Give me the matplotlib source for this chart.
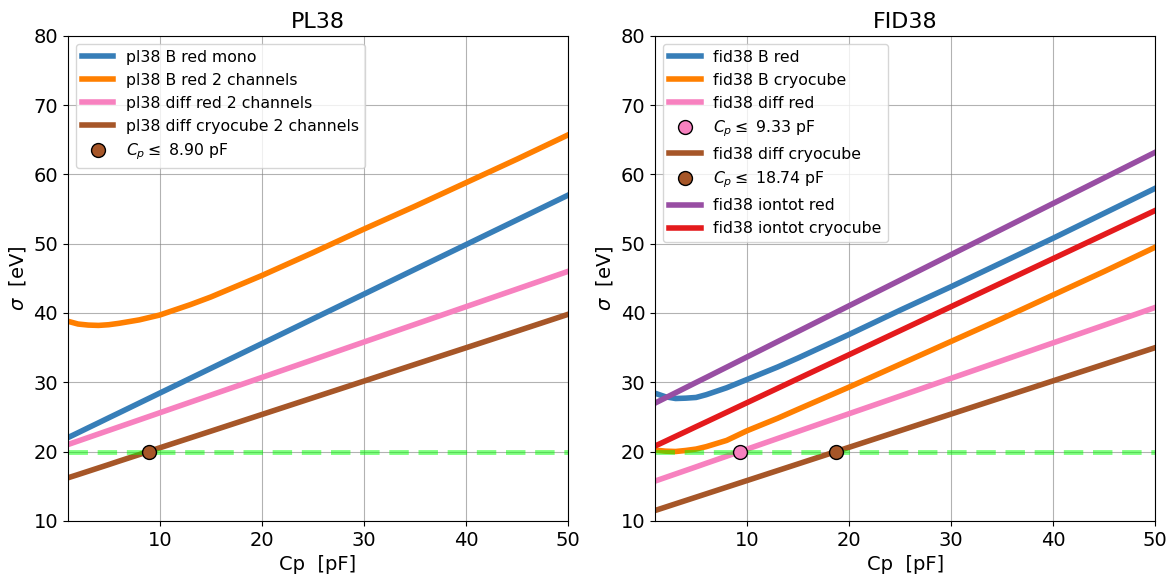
import matplotlib
matplotlib.use("Agg")
import matplotlib.pyplot as plt

# Cp values (pF) sampled for all curves
cp = [1, 2, 3, 4, 5, 6, 8, 10, 13, 15, 20, 25, 30, 35, 40, 45, 50]

# PL38 series (sigma in eV)
pl_b_mono = [22.0, 22.71, 23.43, 24.14, 24.86, 25.57, 27.0, 28.43, 30.57, 32.0, 35.57, 39.14, 42.71, 46.29, 49.86, 53.43, 57.0]
pl_b_2ch = [38.8, 38.4, 38.25, 38.2, 38.3, 38.5, 39.0, 39.7, 41.2, 42.3, 45.4, 48.7, 52.1, 55.4, 58.8, 62.2, 65.7]
pl_diff_red = [21.0, 21.51, 22.02, 22.53, 23.04, 23.55, 24.57, 25.59, 27.12, 28.14, 30.69, 33.24, 35.8, 38.35, 40.9, 43.45, 46.0]
pl_diff_cryo = [16.2, 16.67, 17.15, 17.63, 18.11, 18.6, 19.56, 20.53, 21.97, 22.93, 25.34, 27.75, 30.16, 32.57, 34.97, 37.38, 39.8]
pl_cp_lim = 8.90

# FID38 series (sigma in eV)
fid_b_red = [28.4, 27.9, 27.65, 27.7, 27.8, 28.2, 29.2, 30.4, 32.2, 33.5, 36.9, 40.4, 43.8, 47.3, 50.8, 54.4, 58.0]
fid_b_cryo = [20.2, 20.05, 20.0, 20.15, 20.35, 20.7, 21.6, 23.0, 24.8, 26.1, 29.3, 32.6, 35.9, 39.2, 42.6, 46.0, 49.5]
fid_diff_red = [15.74, 16.25, 16.76, 17.27, 17.78, 18.3, 19.32, 20.34, 21.88, 22.9, 25.46, 28.01, 30.57, 33.13, 35.69, 38.24, 40.8]
fid_diff_cryo = [11.49, 11.97, 12.45, 12.93, 13.41, 13.89, 14.85, 15.81, 17.25, 18.21, 20.61, 23.01, 25.41, 27.81, 30.21, 32.6, 35.0]
fid_iontot_red = [27.0, 27.74, 28.48, 29.22, 29.96, 30.69, 32.17, 33.65, 35.87, 37.34, 41.04, 44.73, 48.43, 52.12, 55.82, 59.51, 63.2]
fid_iontot_cryo = [20.8, 21.49, 22.19, 22.88, 23.58, 24.27, 25.66, 27.05, 29.13, 30.52, 33.98, 37.45, 40.92, 44.39, 47.86, 51.33, 54.8]
fid_cp_lim_red = 9.33
fid_cp_lim_cryo = 18.74

target = 20

blue = '#377eb8'
orange = '#ff7f00'
pink = '#f781bf'
brown = '#a65628'
purple = '#984ea3'
red = '#e41a1c'

lw = 4

fig = plt.figure(figsize=(11.7, 5.78), dpi=100)
ax1 = fig.add_axes([0.058, 0.099, 0.4275, 0.839])
ax2 = fig.add_axes([0.560, 0.099, 0.4275, 0.839])

# PL38
ax1.plot(cp, pl_b_mono, color=blue, lw=lw, label='pl38 B red mono')
ax1.plot(cp, pl_b_2ch, color=orange, lw=lw, label='pl38 B red 2 channels')
ax1.plot(cp, pl_diff_red, color=pink, lw=lw, label='pl38 diff red 2 channels')
ax1.plot(cp, pl_diff_cryo, color=brown, lw=lw, label='pl38 diff cryocube 2 channels')
ax1.axhline(target, color='lime', alpha=0.5, lw=3.5, ls=(0, (4, 2)))
ax1.plot([pl_cp_lim], [target], 'o', color=brown, mec='black', ms=10, zorder=5,
         label=r'$C_p \leq$ %.2f pF' % pl_cp_lim)
ax1.set_title('PL38', fontsize=16)

# FID38
ax2.plot(cp, fid_b_red, color=blue, lw=lw, label='fid38 B red')
ax2.plot(cp, fid_b_cryo, color=orange, lw=lw, label='fid38 B cryocube')
ax2.plot(cp, fid_diff_red, color=pink, lw=lw, label='fid38 diff red')
ax2.plot([fid_cp_lim_red], [target], 'o', color=pink, mec='black', ms=10, zorder=5,
         label=r'$C_p \leq$ %.2f pF' % fid_cp_lim_red)
ax2.plot(cp, fid_diff_cryo, color=brown, lw=lw, label='fid38 diff cryocube')
ax2.plot([fid_cp_lim_cryo], [target], 'o', color=brown, mec='black', ms=10, zorder=5,
         label=r'$C_p \leq$ %.2f pF' % fid_cp_lim_cryo)
ax2.plot(cp, fid_iontot_red, color=purple, lw=lw, label='fid38 iontot red')
ax2.plot(cp, fid_iontot_cryo, color=red, lw=lw, label='fid38 iontot cryocube')
ax2.axhline(target, color='lime', alpha=0.5, lw=3.5, ls=(0, (4, 2)))
ax2.set_title('FID38', fontsize=16)

for ax in (ax1, ax2):
    ax.set_xlim(1, 50)
    ax.set_ylim(10, 80)
    ax.set_xticks([10, 20, 30, 40, 50])
    ax.grid(True, color='gray', alpha=0.6)
    ax.tick_params(labelsize=14)
    ax.set_xlabel('Cp  [pF]', fontsize=14)
    ax.set_ylabel(r'$\sigma$  [eV]', fontsize=14)
    ax.legend(loc='upper left', fontsize=11.3)

fig.savefig('out.png', dpi=100)
